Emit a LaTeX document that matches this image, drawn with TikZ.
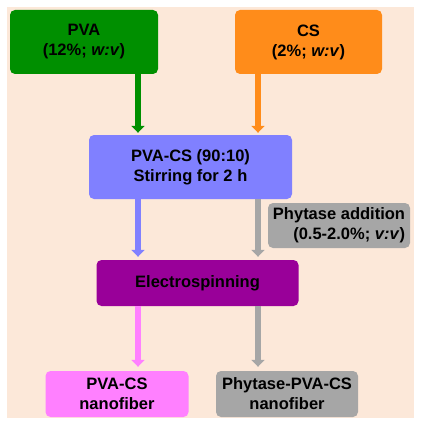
\documentclass[tikz,border=0pt]{standalone}
\usepackage{fontspec}
\setmainfont{Liberation Sans}
\usetikzlibrary{arrows.meta}
\definecolor{bgpeach}{HTML}{FCE8D9}
\definecolor{cgreen}{HTML}{008F00}
\definecolor{corange}{HTML}{FF8C1A}
\definecolor{cblue}{HTML}{8080FF}
\definecolor{cpurple}{HTML}{990099}
\definecolor{cpink}{HTML}{FF80FF}
\definecolor{cgray}{HTML}{A6A6A6}
\tikzset{
  box/.style={rounded corners=5pt, inner sep=0pt, align=center, text=black,
    font=\bfseries\fontsize{16.5}{20}\selectfont},
  arr/.style={line width=6pt, -{Triangle[width=13pt,length=7pt]}}
}
\begin{document}
\begin{tikzpicture}[x=1pt,y=-1pt]
\useasboundingbox (0,0) rectangle (421,425);
\fill[white] (0,0) rectangle (421,425);
\fill[bgpeach] (7,7) rectangle (414,418);
\node[box, fill=cgreen, minimum width=148pt, minimum height=64pt] (pva) at (84,42) {PVA\\(12\%; \textit{w:v})};
\node[box, fill=corange, minimum width=147pt, minimum height=64pt] (cs) at (308.5,42) {CS\\(2\%; \textit{w:v})};
\node[box, fill=cblue, minimum width=203pt, minimum height=64pt] (mix) at (190.5,167) {PVA-CS (90:10)\\Stirring for 2 h};
\node[box, fill=cgray, minimum width=142pt, minimum height=45pt, align=right] (phy) at (339,225.5) {Phytase addition\\(0.5-2.0\%; \textit{v:v})};
\node[box, fill=cpurple, minimum width=202pt, minimum height=46pt] (es) at (197.5,283) {Electrospinning};
\node[box, fill=cpink, minimum width=143pt, minimum height=46pt] (nf1) at (117,394) {PVA-CS\\nanofiber};
\node[box, fill=cgray, minimum width=142pt, minimum height=46pt] (nf2) at (287,394) {Phytase-PVA-CS\\nanofiber};
\coordinate (xl) at (138,0);
\coordinate (xr) at (258,0);
\draw[arr, cgreen] (xl |- pva.south) -- ([yshift=2pt]xl |- mix.north);
\draw[arr, corange] (xr |- cs.south) -- ([yshift=2pt]xr |- mix.north);
\draw[arr, cblue] (xl |- mix.south) -- ([yshift=3pt]xl |- es.north);
\draw[arr, cgray] (xr |- mix.south) -- ([yshift=3pt]xr |- es.north);
\draw[arr, cpink] (xl |- es.south) -- ([yshift=4pt]xl |- nf1.north);
\draw[arr, cgray] (xr |- es.south) -- ([yshift=4pt]xr |- nf2.north);
\end{tikzpicture}
\end{document}
